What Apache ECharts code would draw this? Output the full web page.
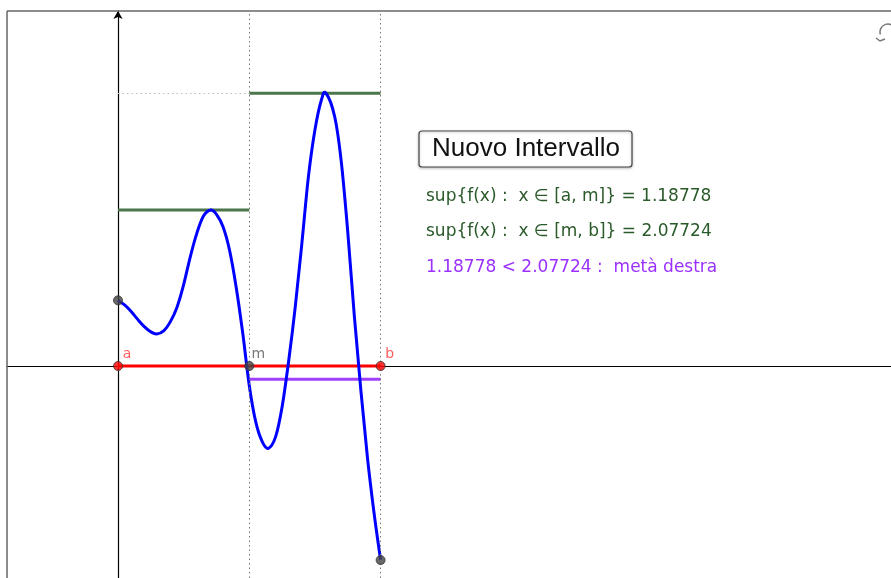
<!DOCTYPE html>
<html>
<head>
<meta charset="utf-8">
<script src="https://cdn.jsdelivr.net/npm/echarts@6/dist/echarts.min.js"></script>
<style>
  html, body { margin: 0; padding: 0; background: #fff; }
  #chart { width: 891px; height: 578px; }
</style>
</head>
<body>
<div id="chart"></div>
<script>
// valori di f(x) (passo ~0.05, più i punti di massimo/minimo)
const curveX = [0, 0.05, 0.1, 0.15, 0.2, 0.25, 0.295, 0.35, 0.4, 0.45, 0.5, 0.55, 0.6, 0.65, 0.706, 0.75, 0.8, 0.85, 0.9, 0.95, 1.0, 1.05, 1.1, 1.145, 1.2, 1.25, 1.3, 1.35, 1.4, 1.45, 1.5, 1.55, 1.584, 1.65, 1.7, 1.75, 1.8, 1.85, 1.9, 1.95, 2.0]
const curveY = [0.50, 0.465, 0.415, 0.355, 0.30, 0.26, 0.244, 0.27, 0.34, 0.45, 0.62, 0.83, 1.01, 1.14, 1.18778, 1.155, 1.06, 0.88, 0.60, 0.25, -0.15, -0.43, -0.58, -0.627, -0.54, -0.31, 0.04, 0.45, 0.93, 1.44, 1.80, 2.03, 2.07724, 1.90, 1.56, 1.02, 0.38, -0.19, -0.70, -1.12, -1.478]

// estremi dell'intervallo
const pointA = 0
const pointM = 1
const pointB = 2
const supLeft = 1.18778
const supRight = 2.07724
const halfMark = -0.1

const textLines = [
  'sup{f(x) :  x ∈ [a, m]} = 1.18778',
  'sup{f(x) :  x ∈ [m, b]} = 2.07724',
  '1.18778 < 2.07724 :  metà destra'
]

const chart = echarts.init(document.getElementById('chart'))

const curveData = curveX.map((x, i) => [x, curveY[i]])

// curva liscia (Catmull-Rom) passando per i punti convertiti con api.coord
function renderCurve(params, api) {
  const pts = curveData.map(p => api.coord(p))
  let d = 'M' + pts[0][0] + ' ' + pts[0][1]
  for (let i = 0; i < pts.length - 1; i++) {
    const p0 = pts[Math.max(i - 1, 0)]
    const p1 = pts[i]
    const p2 = pts[i + 1]
    const p3 = pts[Math.min(i + 2, pts.length - 1)]
    const c1x = p1[0] + (p2[0] - p0[0]) / 6
    const c1y = p1[1] + (p2[1] - p0[1]) / 6
    const c2x = p2[0] - (p3[0] - p1[0]) / 6
    const c2y = p2[1] - (p3[1] - p1[1]) / 6
    d += ' C' + c1x + ' ' + c1y + ' ' + c2x + ' ' + c2y + ' ' + p2[0] + ' ' + p2[1]
  }
  return {
    type: 'path',
    shape: { pathData: d },
    style: { stroke: '#0000ff', lineWidth: 3, fill: 'none', lineJoin: 'round' }
  }
}

const option = {
  animation: false,
  grid: {
    left: 7, top: 11, right: 0, bottom: 0
  },
  xAxis: {
    type: 'value',
    min: -0.8454,
    max: 5.8872,
    axisLine: { onZero: true, lineStyle: { color: '#000', width: 1.2 } },
    axisTick: { show: false },
    axisLabel: { show: false },
    splitLine: { show: false }
  },
  yAxis: {
    type: 'value',
    min: -1.6146,
    max: 2.7037,
    axisLine: {
      onZero: true,
      symbol: ['none', 'arrow'],
      symbolSize: [7, 8],
      lineStyle: { color: '#000', width: 1.2 }
    },
    axisTick: { show: false },
    axisLabel: { show: false },
    splitLine: { show: false }
  },
  series: [
    {
      // linee tratteggiate verticali in m e b
      type: 'line',
      data: [],
      markLine: {
        silent: true,
        symbol: 'none',
        label: { show: false },
        lineStyle: { color: '#777', type: [1.5, 3], width: 1 },
        data: [
          { xAxis: pointM },
          { xAxis: pointB },
          [
            { coord: [pointA, supRight], lineStyle: { color: '#bbb', type: [1.5, 3], width: 1 } },
            { coord: [pointM, supRight] }
          ]
        ]
      }
    },
    {
      // segmento [a, b]
      type: 'line',
      data: [[pointA, 0], [pointB, 0]],
      symbol: 'none',
      lineStyle: { color: '#ff0000', width: 3 },
      z: 3
    },
    {
      // metà scelta
      type: 'line',
      data: [[pointM, halfMark], [pointB, halfMark]],
      symbol: 'none',
      lineStyle: { color: '#a040ff', width: 3 },
      z: 3
    },
    {
      type: 'line',
      data: [[pointA, supLeft], [pointM, supLeft]],
      symbol: 'none',
      lineStyle: { color: '#4b754b', width: 3 },
      z: 3
    },
    {
      type: 'line',
      data: [[pointM, supRight], [pointB, supRight]],
      symbol: 'none',
      lineStyle: { color: '#4b754b', width: 3 },
      z: 3
    },
    {
      // f(x)
      type: 'custom',
      data: [curveData[0]],
      renderItem: renderCurve,
      silent: true,
      z: 4
    },
    {
      type: 'scatter',
      symbolSize: 9,
      z: 6,
      data: [
        { value: [pointA, 0], itemStyle: { color: '#ff0000' }, label: { show: true, formatter: 'a', color: '#ff3333' } },
        { value: [pointM, 0], itemStyle: { color: '#444' }, label: { show: true, formatter: 'm', color: '#555' } },
        { value: [pointB, 0], itemStyle: { color: '#ff0000' }, label: { show: true, formatter: 'b', color: '#ff3333' } },
        { value: [pointA, curveY[0]], itemStyle: { color: '#444' } },
        { value: [pointB, curveY[curveY.length - 1]], itemStyle: { color: '#444' } }
      ],
      itemStyle: { borderColor: '#333', borderWidth: 1 },
      label: {
        position: 'top',
        offset: [9, 5],
        fontSize: 14,
        fontFamily: 'DejaVu Sans'
      }
    }
  ],
  graphic: [
    // cornice: solo lato sinistro e superiore
    {
      type: 'line',
      shape: { x1: 7, y1: 11, x2: 7, y2: 578 },
      style: { stroke: '#666', lineWidth: 1.5 },
      z: 9
    },
    {
      type: 'line',
      shape: { x1: 7, y1: 11, x2: 891, y2: 11 },
      style: { stroke: '#666', lineWidth: 1.5 },
      z: 9
    },
    {
      type: 'rect',
      shape: { x: 419, y: 131, width: 213, height: 36, r: 3 },
      style: { fill: '#fff', stroke: '#444', lineWidth: 1.2, shadowBlur: 3, shadowColor: 'rgba(0,0,0,0.25)', shadowOffsetY: 1 },
      z: 10
    },
    {
      type: 'text',
      x: 526, y: 149,
      style: { text: 'Nuovo Intervallo', font: '26px "Liberation Sans"', fill: '#111', align: 'center', verticalAlign: 'middle' },
      z: 11
    },
    {
      type: 'text',
      x: 426, y: 197,
      style: { text: textLines[0], font: '17px "DejaVu Sans"', fill: '#2a5a2a', verticalAlign: 'middle' },
      z: 11
    },
    {
      type: 'text',
      x: 426, y: 232,
      style: { text: textLines[1], font: '17px "DejaVu Sans"', fill: '#2a5a2a', verticalAlign: 'middle' },
      z: 11
    },
    {
      type: 'text',
      x: 426, y: 268,
      style: { text: textLines[2], font: '17px "DejaVu Sans"', fill: '#9b30ff', verticalAlign: 'middle' },
      z: 11
    },
    {
      // icona di aggiornamento
      type: 'arc',
      shape: { cx: 888, cy: 32, r: 8, startAngle: Math.PI * 0.9, endAngle: Math.PI * 1.9 },
      style: { stroke: '#777', lineWidth: 1.5, fill: null },
      z: 11
    },
    {
      type: 'polyline',
      shape: { points: [[876, 38], [880, 41], [885, 39]] },
      style: { stroke: '#777', lineWidth: 1.5, fill: null },
      z: 11
    }
  ]
}

chart.setOption(option)
</script>
</body>
</html>
